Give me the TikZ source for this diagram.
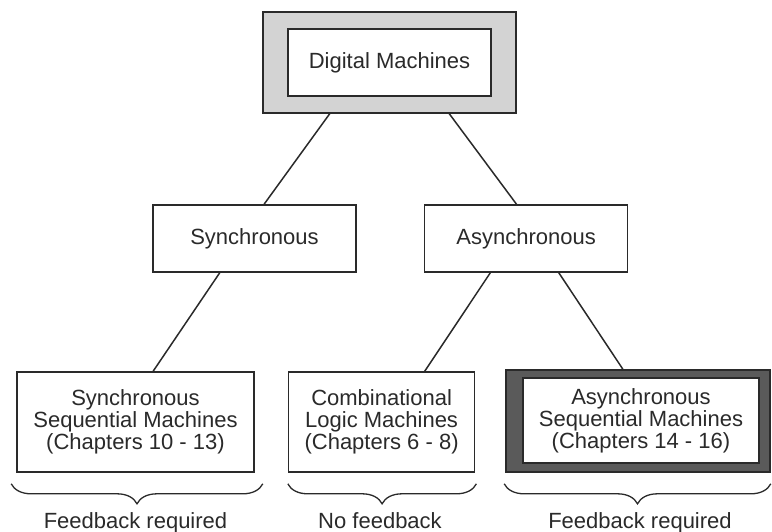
\documentclass[tikz,border=0pt]{standalone}
\usepackage{fontspec}
\setmainfont{Liberation Sans}
\usetikzlibrary{positioning,calc,decorations.pathreplacing}
\definecolor{ink}{HTML}{2A2A2A}
\definecolor{framelight}{HTML}{D3D3D3}
\definecolor{framedark}{HTML}{5A5A5A}

\begin{document}
\begin{tikzpicture}[x=1pt, y=-1pt,
    box/.style={draw=ink, fill=white, line width=1.6pt, inner sep=0pt,
                align=center, text=ink, font=\fontsize{22}{22}\selectfont},
    frame/.style={draw=ink, line width=1.6pt, inner sep=0pt},
    link/.style={draw=ink, line width=1.5pt},
    brace/.style={draw=ink, line width=1.3pt,
                  decoration={brace, mirror, amplitude=20pt, aspect=0.5}, decorate},
    note/.style={text=ink, font=\fontsize{22}{22}\selectfont, anchor=base}]
  \useasboundingbox (0,0) rectangle (772,532);

  % top level
  \node[frame, fill=framelight, minimum width=253pt, minimum height=101pt] (dmframe) at (389.5,62.5) {};
  \node[box, minimum width=203pt, minimum height=67pt] (dm) at (dmframe.center) {Digital Machines};

  % timing
  \node[box, minimum width=203pt, minimum height=67pt] (sync) at (254.5,238.5) {Synchronous};
  \node[box, minimum width=203pt, minimum height=67pt, right=67pt of sync] (async) {Asynchronous};

  % machine kinds
  \node[box, minimum width=237pt, minimum height=100pt] (ssm) at (135.5,422)
    {Synchronous\\Sequential Machines\\(Chapters 10 - 13)};
  \node[box, minimum width=186pt, minimum height=100pt, right=33pt of ssm] (clm)
    {Combinational\\Logic Machines\\(Chapters 6 - 8)};
  \node[frame, fill=framedark, minimum width=264pt, minimum height=102pt] (asmframe) at (638,421) {};
  \node[box, minimum width=236pt, minimum height=85pt] (asm) at (641,420.5)
    {Asynchronous\\Sequential Machines\\(Chapters 14 - 16)};

  % tree
  \draw[link] ($(dmframe.south west)!.265!(dmframe.south east)$) -- ($(sync.north west)!.547!(sync.north east)$);
  \draw[link] ($(dmframe.south west)!.735!(dmframe.south east)$) -- ($(async.north west)!.453!(async.north east)$);
  \draw[link] ($(sync.south west)!.33!(sync.south east)$) -- ($(ssm.north west)!.574!(ssm.north east)$);
  \draw[link] ($(async.south west)!.325!(async.south east)$) -- ($(clm.north west)!.73!(clm.north east)$);
  \draw[link] ($(async.south west)!.66!(async.south east)$) -- ($(asmframe.north west)!.443!(asmframe.north east)$);

  % feedback braces
  \draw[brace] ($(ssm.south west)+(-5,11)$) -- ($(ssm.south east)+(8,11)$);
  \draw[brace] ($(clm.south west)+(0,11)$) -- ($(clm.south east)+(1,11)$);
  \draw[brace] ($(asmframe.south west)+(-1,11)$) -- ($(asmframe.south east)+(0,11)$);
  \node[note] (fb1) at (135.5,528) {Feedback required};
  \node[note] (fb2) at (380,528) {No feedback};
  \node[note] (fb3) at (640,528) {Feedback required};
\end{tikzpicture}
\end{document}
